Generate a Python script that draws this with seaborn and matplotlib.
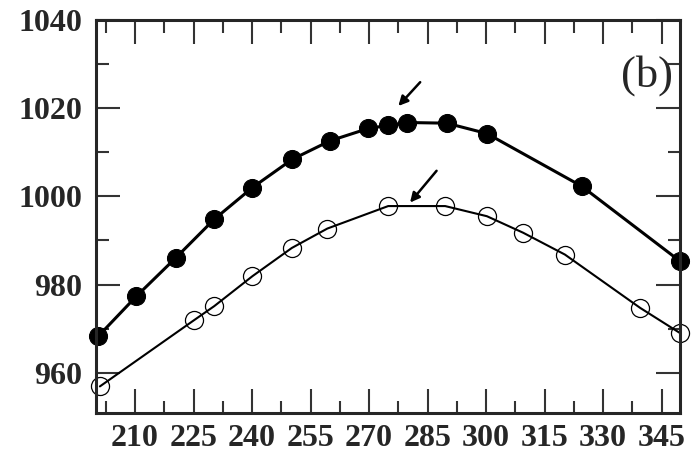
import numpy as np
import pandas as pd
import seaborn as sns
from matplotlib import pyplot as plt
from matplotlib.ticker import MultipleLocator

# values
x_filled = [200.6, 210.3, 220.5, 230.3, 240.1, 250.3, 260.0, 269.8, 274.9, 279.8, 289.9, 300.2, 324.5, 349.7]
y_filled = [968.3, 977.3, 986.1, 994.8, 1002.0, 1008.4, 1012.6, 1015.4, 1016.1, 1016.75, 1016.6, 1014.25, 1002.3, 985.3]

x_open = [201.0, 225.1, 230.3, 240.1, 250.2, 259.3, 274.9, 289.5, 300.2, 309.5, 320.2, 339.5, 349.7]
y_open = [956.9, 971.9, 975.1, 981.9, 988.3, 992.7, 997.8, 997.8, 995.5, 991.75, 986.8, 974.7, 969.0]

x_ticks = [210, 225, 240, 255, 270, 285, 300, 315, 330, 345]
y_ticks = [960, 980, 1000, 1020, 1040]

# arrows (start, tip)
arrow_upper = ((283.1, 1025.9), (277.5, 1020.5))
arrow_lower = ((287.3, 1005.8), (280.5, 998.6))

sns.set_style("ticks")
plt.rcParams['font.family'] = ['Liberation Serif', 'DejaVu Serif']

df_f = pd.DataFrame({"x": x_filled, "y": y_filled})
df_o = pd.DataFrame({"x": x_open, "y": y_open})

fig = plt.figure(figsize=(6.94, 4.58), dpi=100)
ax = fig.add_axes([96/694, 1-413.3/458, 584/694, 393.3/458])

sns.lineplot(data=df_f, x="x", y="y", ax=ax, color="black", linewidth=2.2,
             marker="o", markersize=13, markerfacecolor="black",
             markeredgecolor="black", estimator=None, sort=False)
sns.lineplot(data=df_o, x="x", y="y", ax=ax, color="black", linewidth=1.5,
             marker="o", markersize=13, markerfacecolor="none",
             markeredgecolor="black", markeredgewidth=0.9,
             estimator=None, sort=False)
for ln in ax.lines:
    ln.set_clip_on(False)

for (s, t) in [arrow_upper, arrow_lower]:
    ax.annotate("", xy=t, xytext=s,
                arrowprops=dict(arrowstyle="-|>", color="black", lw=1.8,
                                mutation_scale=14, shrinkA=0, shrinkB=0))

ax.set_xlim(200, 349.7)
ax.set_ylim(950.8, 1040)
ax.set_xticks(x_ticks)
ax.set_yticks(y_ticks)
ax.xaxis.set_minor_locator(MultipleLocator(7.5))
ax.yaxis.set_minor_locator(MultipleLocator(10))
ax.set_xlabel("")
ax.set_ylabel("")

ax.tick_params(which="both", direction="in", top=True, right=True, width=1.5, color="#333333")
ax.tick_params(which="major", length=17)
ax.tick_params(which="minor", length=9)
ax.tick_params(axis="y", pad=10)
ax.tick_params(axis="x", pad=8)
for lab in ax.get_xticklabels() + ax.get_yticklabels():
    lab.set_fontsize(23)
    lab.set_fontweight("bold")

for sp in ax.spines.values():
    sp.set_linewidth(2.2)
    sp.set_visible(True)

ax.text(0.943, 0.86, "(b)", transform=ax.transAxes, fontsize=32,
        ha="center", va="center")

fig.savefig("out.png", dpi=100)
